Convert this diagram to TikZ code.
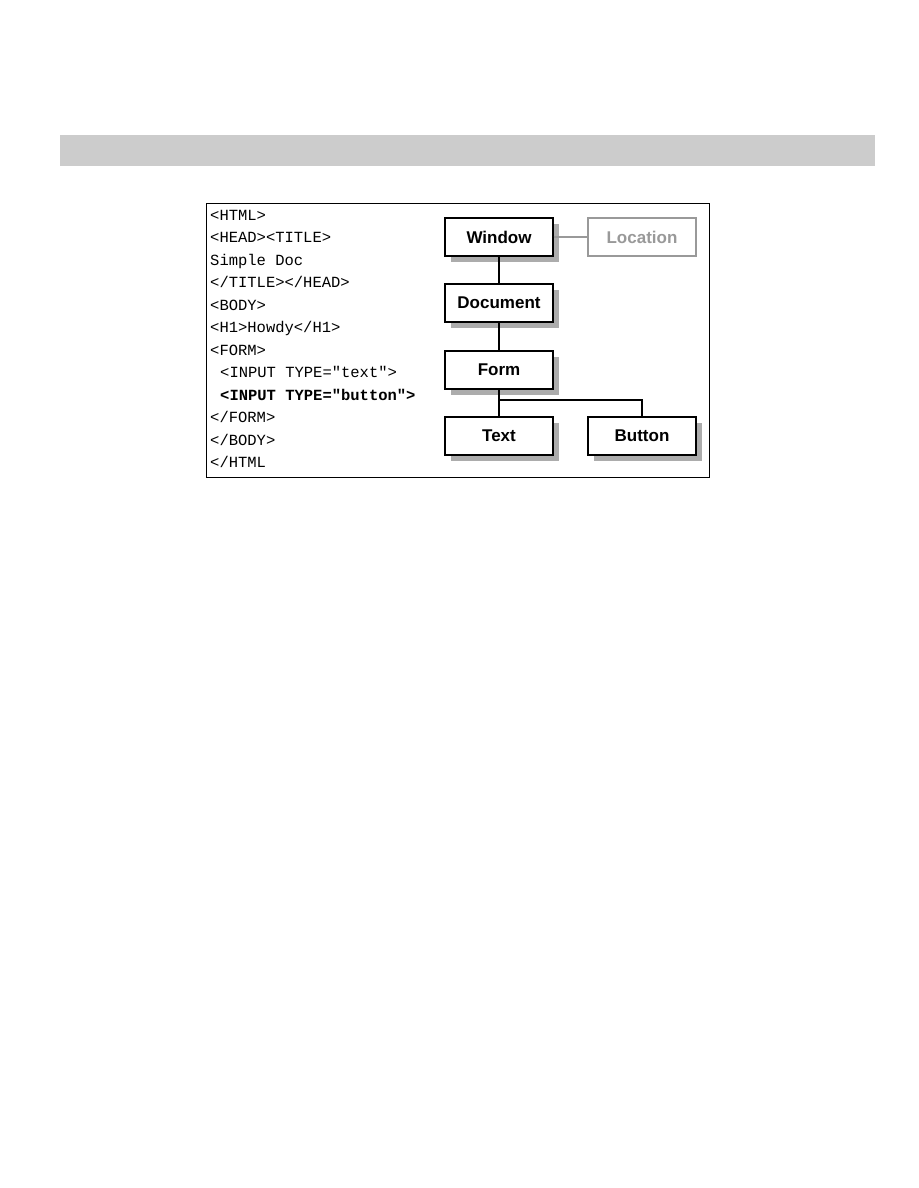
\documentclass[tikz,border=0pt]{standalone}
\usepackage{fontspec}
\setmainfont{Liberation Sans}
\newfontfamily\codefont{Liberation Mono}
\usetikzlibrary{shadows}

\begin{document}
\begin{tikzpicture}[x=1pt,y=-1pt,
   obj/.style={draw, line width=1.2pt, fill=white, minimum width=108pt, minimum height=38pt,
      font=\fontsize{17}{20}\selectfont\bfseries,
      drop shadow={shadow xshift=6pt, shadow yshift=-6pt, fill=gray!65, opacity=1}},
   ghost/.style={draw=gray!80, line width=1.2pt, fill=white, text=gray!80, minimum width=108pt, minimum height=38pt,
      font=\fontsize{17}{20}\selectfont\bfseries},
   code/.style={anchor=base west, inner sep=0pt, font=\codefont\fontsize{15.5}{18}\selectfont}]

   \useasboundingbox (0,0) rectangle (918,1188);

   % grey bar and frame
   \fill[fill={rgb,255:red,204;green,204;blue,204}] (60,135) rectangle (875,166);
   \draw[line width=0.8pt] (206,203) rectangle (709,477);

   % html source
   \node[code] (l1) at (210,220) {<HTML>};
   \node[code] (l2) at (210,242.5) {<HEAD><TITLE>};
   \node[code] (l3) at (210,265) {Simple Doc};
   \node[code] (l4) at (210,287.5) {</TITLE></HEAD>};
   \node[code] (l5) at (210,310) {<BODY>};
   \node[code] (l6) at (210,332.5) {<H1>Howdy</H1>};
   \node[code] (l7) at (210,355) {<FORM>};
   \node[code] (l8) at (220,377.5) {<INPUT TYPE="text">};
   \node[code,font=\codefont\fontsize{15.5}{18}\selectfont\bfseries] (l9) at (220,400) {<INPUT TYPE="button">};
   \node[code] (l10) at (210,422.5) {</FORM>};
   \node[code] (l11) at (210,445) {</BODY>};
   \node[code] (l12) at (210,467.5) {</HTML};

   % object tree
   \node[obj] (win) at (499,237) {Window};
   \node[ghost] (loc) at (642,237) {Location};
   \node[obj] (doc) at (499,303) {Document};
   \node[obj] (form) at (499,370) {Form};
   \node[obj] (text) at (499,436) {Text};
   \node[obj] (button) at (642,436) {Button};
   \coordinate (split) at (499,400);

   \draw[gray!80, line width=1.2pt] (win) -- (loc);
   \draw[line width=1.2pt] (win) -- (doc);
   \draw[line width=1.2pt] (doc) -- (form);
   \draw[line width=1.2pt] (form) -- (split) -- (text);
   \draw[line width=1.2pt] (split) -| (button);
  \end{tikzpicture}
\end{document}
